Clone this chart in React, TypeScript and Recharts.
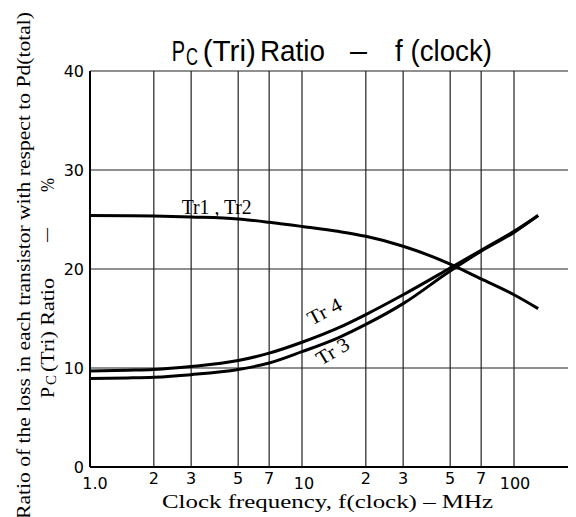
import React from "react";
import { LineChart, Line, XAxis, YAxis, CartesianGrid } from "recharts";

// Clock frequency in MHz (log axis)
const freqMHz = [1, 1.5, 2, 3, 5, 7, 10, 15, 20, 30, 50, 70, 100, 130];
// PC(Tri) ratio in %
const tr12 = [25.4, 25.38, 25.35, 25.25, 25.05, 24.72, 24.3, 23.78, 23.3, 22.3, 20.5, 19.0, 17.4, 16.0];
const tr4 = [9.7, 9.78, 9.85, 10.15, 10.75, 11.5, 12.6, 14.1, 15.4, 17.4, 20.1, 21.9, 23.8, 25.4];
const tr3 = [8.95, 9.0, 9.07, 9.33, 9.85, 10.5, 11.65, 13.1, 14.4, 16.5, 19.8, 21.8, 23.7, 25.4];

const xTicks = [1, 2, 3, 5, 7, 10, 20, 30, 50, 70, 100, 200];
const xTickLabels = ["1.0", "2", "3", "5", "7", "10", "2", "3", "5", "7", "100", "2"];
const majorTicks = [1, 10, 100];
const yTicks = [0, 10, 20, 30, 40];

const data = freqMHz.map((f, i) => ({ f, tr12: tr12[i], tr4: tr4[i], tr3: tr3[i] }));

const tickFont = "'DejaVu Sans', sans-serif";
const serif = "'Liberation Serif', 'Times New Roman', serif";
const sans = "'Liberation Sans', Arial, sans-serif";

const XTick = (props: any) => {
  const { x, y, payload } = props;
  const v = payload.value;
  const idx = xTicks.indexOf(v);
  const label = idx >= 0 ? xTickLabels[idx] : String(v);
  const major = majorTicks.includes(v);
  const dx = v === 1 ? 5 : v === 10 ? 2 : v === 100 ? 1 : 0;
  return (
    <text x={x + dx} y={y + (major ? 22 : 17.3)} textAnchor="middle" fontFamily={tickFont} fontSize={16} fill="#000">
      {label}
    </text>
  );
};

const YTick = (props: any) => {
  const { x, y, payload } = props;
  return (
    <text x={x - 6} y={y + 6} textAnchor="end" fontFamily={tickFont} fontSize={16} fill="#000">
      {payload.value}
    </text>
  );
};

export default function App() {
  return (
    <div style={{ position: "relative", width: 568, height: 509, overflow: "hidden", background: "#fff" }}>
      <LineChart width={720} height={509} data={data} margin={{ top: 63, right: 2, left: 52, bottom: 20 }}>
        <CartesianGrid stroke="#222" strokeWidth={1.2} />
        <XAxis
          dataKey="f"
          type="number"
          scale="log"
          domain={[1, 1000]}
          allowDataOverflow
          ticks={xTicks}
          interval={0}
          height={30}
          tickSize={0}
          tickMargin={0}
          tickLine={false}
          axisLine={{ stroke: "#000", strokeWidth: 2 }}
          tick={<XTick />}
        />
        <YAxis
          type="number"
          domain={[0, 40]}
          ticks={yTicks}
          interval={0}
          width={30}
          tickSize={0}
          tickMargin={0}
          tickLine={false}
          axisLine={{ stroke: "#000", strokeWidth: 2 }}
          tick={<YTick />}
        />
        <Line type="monotone" dataKey="tr12" stroke="#000" strokeWidth={3} dot={false} isAnimationActive={false} />
        <Line type="monotone" dataKey="tr4" stroke="#000" strokeWidth={3} dot={false} isAnimationActive={false} />
        <Line type="monotone" dataKey="tr3" stroke="#000" strokeWidth={3} dot={false} isAnimationActive={false} />
      </LineChart>
      <svg width={568} height={509} style={{ position: "absolute", left: 0, top: 0, pointerEvents: "none" }}>
        {/* Title */}
        <g fontFamily={sans} fill="#000">
          <text x={163.7} y={53} fontSize={29} textLength={13.3} lengthAdjust="spacingAndGlyphs">P</text>
          <text x={178} y={57} fontSize={24} textLength={12} lengthAdjust="spacingAndGlyphs">C</text>
          <text x={194.7} y={53} fontSize={29} textLength={53.3} lengthAdjust="spacingAndGlyphs">(Tri)</text>
          <text x={252} y={53} fontSize={29} textLength={65} lengthAdjust="spacingAndGlyphs">Ratio</text>
          <text x={342} y={53} fontSize={29} textLength={17} lengthAdjust="spacingAndGlyphs">–</text>
          <text x={387} y={53} fontSize={29} textLength={97} lengthAdjust="spacingAndGlyphs">f (clock)</text>
        </g>
        {/* Y label line 1 */}
        <g transform="translate(22,0) rotate(-90)" fontFamily={serif} fill="#000">
          <text x={-511} y={0} fontSize={19} textLength={507} lengthAdjust="spacingAndGlyphs">
            Ratio of the loss in each transistor with respect to Pd(total)
          </text>
        </g>
        {/* Y label line 2 */}
        <g transform="translate(46,0) rotate(-90)" fontFamily={serif} fill="#000">
          <text x={-390} y={0} fontSize={19} textLength={11} lengthAdjust="spacingAndGlyphs">P</text>
          <text x={-377} y={2} fontSize={15} textLength={10} lengthAdjust="spacingAndGlyphs">C</text>
          <text x={-364} y={0} fontSize={19} textLength={94} lengthAdjust="spacingAndGlyphs">(Tri) Ratio</text>
          <text x={-234} y={-2} fontSize={19} textLength={14} lengthAdjust="spacingAndGlyphs">—</text>
          <text x={-184} y={0} fontSize={19} textLength={14} lengthAdjust="spacingAndGlyphs">%</text>
        </g>
        {/* X label */}
        <text x={154} y={500} fontFamily={serif} fontSize={19} textLength={331} lengthAdjust="spacingAndGlyphs" fill="#000">
          Clock frequency, f(clock) – MHz
        </text>
        {/* Curve labels */}
        <text x={173.7} y={206} fontFamily={serif} fontSize={20} textLength={70} lengthAdjust="spacingAndGlyphs" fill="#000">
          Tr1 , Tr2
        </text>
        <g transform="translate(303.7,317.7) rotate(-28)">
          <text x={0} y={0} fontFamily={serif} fontSize={20} textLength={36} lengthAdjust="spacingAndGlyphs" fill="#000">Tr 4</text>
        </g>
        <g transform="translate(313,358) rotate(-31)">
          <text x={0} y={0} fontFamily={serif} fontSize={20} textLength={35} lengthAdjust="spacingAndGlyphs" fill="#000">Tr 3</text>
        </g>
      </svg>
    </div>
  );
}
